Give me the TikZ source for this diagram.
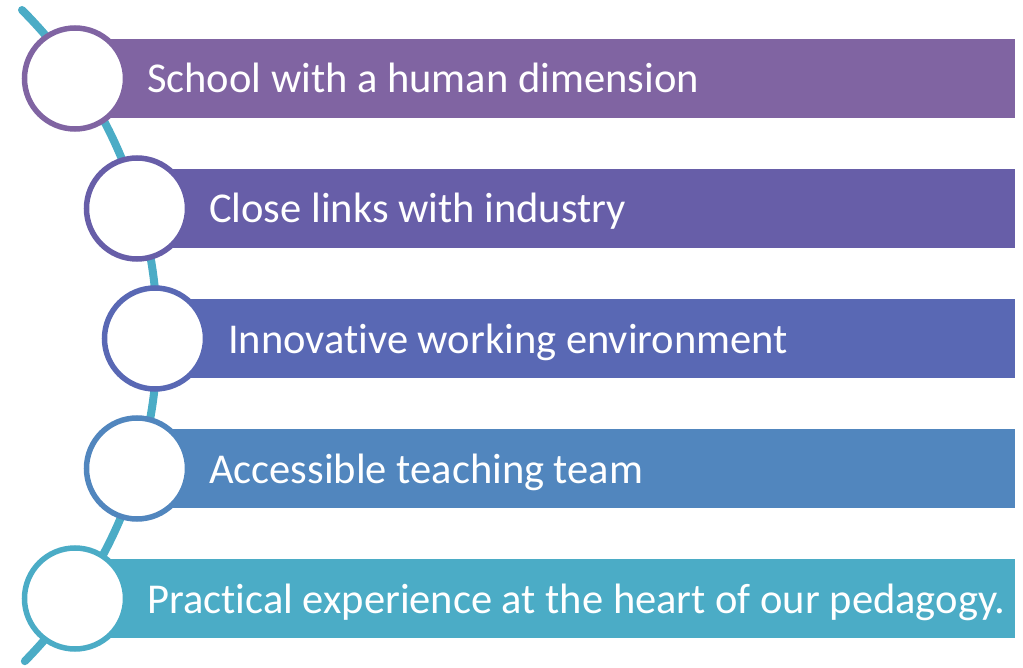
\documentclass[tikz,border=0pt]{standalone}
\usepackage{fontspec}
\setmainfont[Ligatures=NoCommon]{Carlito}
\usetikzlibrary{positioning}
\definecolor{barone}{RGB}{128,100,162}
\definecolor{bartwo}{RGB}{103,94,168}
\definecolor{barthree}{RGB}{89,104,180}
\definecolor{barfour}{RGB}{81,134,190}
\definecolor{barfive}{RGB}{75,172,198}
\definecolor{spine}{RGB}{75,172,198}

\begin{document}
\begin{tikzpicture}[x=1pt, y=-1pt,
    bar/.style={rectangle, fill=#1, minimum height=79pt, inner sep=0pt, anchor=west},
    ring/.style={circle, draw=#1, line width=5.5pt, fill=white, minimum size=101pt, inner sep=0pt},
    lbl/.style={text=white, anchor=base west, inner sep=0pt, font=\fontsize{42.5}{50}\selectfont}]
    \useasboundingbox (0,0) rectangle (1023,668);
    % Spine behind the rings
    \coordinate (top) at (22,10);
    \draw[spine, line width=8pt, line cap=round] (top) arc[start angle=45, end angle=-44.5, radius=462.5pt] coordinate (bottom);
    % Bars
    \node[bar=barone, minimum width=940pt] (b1) at (75,78.5) {};
    \node[bar=bartwo, minimum width=878pt] (b2) at (137,208.5) {};
    \node[bar=barthree, minimum width=860pt] (b3) at (155,338.5) {};
    \node[bar=barfour, minimum width=878pt] (b4) at (137,468.5) {};
    \node[bar=barfive, minimum width=940pt] (b5) at (75,598.5) {};
    % Rings
    \node[ring=barone] (c1) at (b1.west) {};
    \node[ring=bartwo] (c2) at (b2.west) {};
    \node[ring=barthree] (c3) at (b3.west) {};
    \node[ring=barfour] (c4) at (b4.west) {};
    \node[ring=barfive] (c5) at (b5.west) {};
    % Labels
    \node[lbl] (t1) at (147,93) {School with a human dimension};
    \node[lbl] (t2) at (209,223) {Close links with industry};
    \node[lbl] (t3) at (228,353) {Innovative working environment};
    \node[lbl] (t4) at (209,483) {Accessible teaching team};
    \node[lbl] (t5) at (147,613) {Practical experience at the heart of our pedagogy.};
\end{tikzpicture}
\end{document}
